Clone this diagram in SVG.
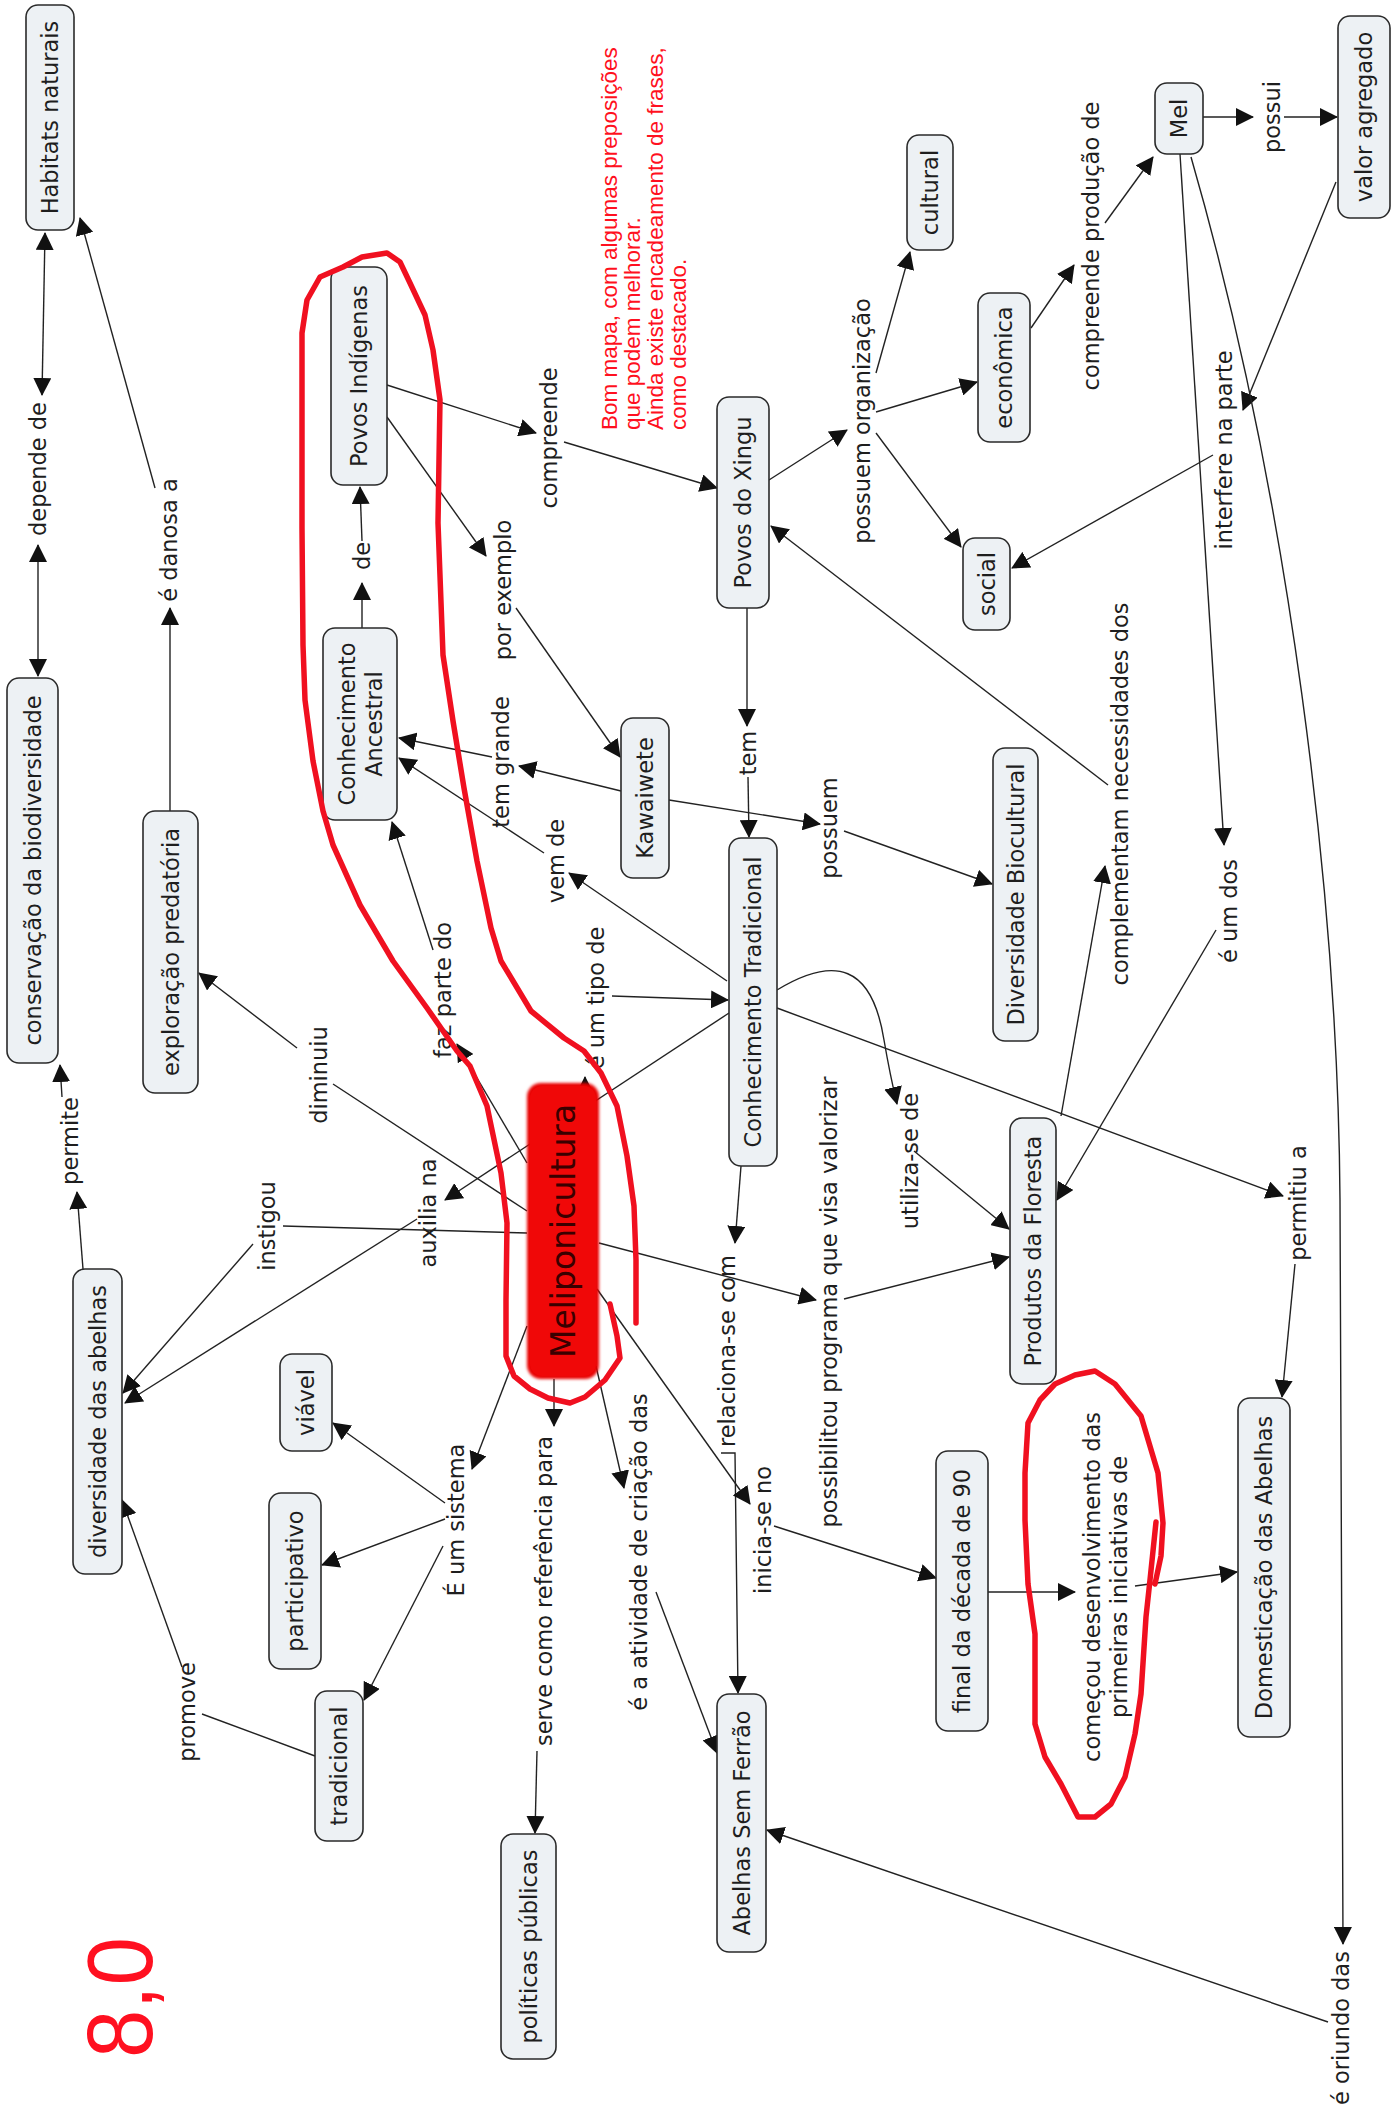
<svg xmlns="http://www.w3.org/2000/svg" width="1392" height="2112" viewBox="0 0 1392 2112">
<style>
.box{fill:#edf1f4;stroke:#2a2a2a;stroke-width:1.6}
.n,.l{font-family:"DejaVu Sans",Verdana,sans-serif;font-size:22.5px;fill:#1e1e1e;text-anchor:middle;dominant-baseline:central}
.r{font-family:"Liberation Sans",Arial,sans-serif;font-size:22.5px;fill:#ff1020}
.c{fill:none;stroke:#222;stroke-width:1.4}
.ink{fill:none;stroke:#f01020;stroke-width:5.5;stroke-linejoin:round;stroke-linecap:round}
</style>
<defs>
<marker id="a" viewBox="0 0 18 18" refX="17" refY="9" markerWidth="18" markerHeight="18" markerUnits="userSpaceOnUse" orient="auto-start-reverse"><path d="M0,0 L18,9 L0,18 z" fill="#111"/></marker>
<filter id="soft" x="-10%" y="-10%" width="120%" height="120%"><feGaussianBlur stdDeviation="1.6"/></filter>
</defs>
<rect width="1392" height="2112" fill="#fff"/>

<g id="connectors" class="c">
<path d="M38,676 L38,545" marker-start="url(#a)" marker-end="url(#a)"/>
<path d="M42,395 L45,233" marker-start="url(#a)" marker-end="url(#a)"/>
<path d="M170,811 L170,608" marker-end="url(#a)"/>
<path d="M155,488 L80,218" marker-end="url(#a)"/>
<path d="M362,628 L362,583" marker-end="url(#a)"/>
<path d="M362,541 L360,487" marker-end="url(#a)"/>
<path d="M387,385 L536,433" marker-end="url(#a)"/>
<path d="M564,442 L717,488" marker-end="url(#a)"/>
<path d="M387,417 L486,556" marker-end="url(#a)"/>
<path d="M516,608 L620,757" marker-end="url(#a)"/>
<path d="M621,791 L519,766" marker-end="url(#a)"/>
<path d="M492,757 L399,738" marker-end="url(#a)"/>
<path d="M669,800 L820,824" marker-end="url(#a)"/>
<path d="M844,831 L992,884" marker-end="url(#a)"/>
<path d="M747,608 L747,726" marker-end="url(#a)"/>
<path d="M748,777 L749,837" marker-end="url(#a)"/>
<path d="M769,480 L847,430" marker-end="url(#a)"/>
<path d="M876,373 L910,252" marker-end="url(#a)"/>
<path d="M876,412 L977,382" marker-end="url(#a)"/>
<path d="M876,433 L961,547" marker-end="url(#a)"/>
<path d="M727,981 L569,873" marker-end="url(#a)"/>
<path d="M544,853 L399,758" marker-end="url(#a)"/>
<path d="M585,1097 L585,1077" marker-end="url(#a)"/>
<path d="M612,996 L728,1000" marker-end="url(#a)"/>
<path d="M527,1163 L457,1044" marker-end="url(#a)"/>
<path d="M433,950 L392,822" marker-end="url(#a)"/>
<path d="M527,1211 L333,1084"/>
<path d="M297,1048 L199,973" marker-end="url(#a)"/>
<path d="M729,1013 L445,1200" marker-end="url(#a)"/>
<path d="M417,1219 L125,1403" marker-end="url(#a)"/>
<path d="M527,1233 L283,1226"/>
<path d="M253,1244 L123,1393" marker-end="url(#a)"/>
<path d="M83,1269 L77,1192" marker-end="url(#a)"/>
<path d="M62,1097 L60,1065" marker-end="url(#a)"/>
<path d="M527,1326 L472,1469" marker-end="url(#a)"/>
<path d="M445,1503 L333,1423" marker-end="url(#a)"/>
<path d="M445,1519 L322,1565" marker-end="url(#a)"/>
<path d="M443,1546 L364,1700" marker-end="url(#a)"/>
<path d="M315,1756 L202,1714"/>
<path d="M182,1667 L122,1500" marker-end="url(#a)"/>
<path d="M554,1379 L554,1426" marker-end="url(#a)"/>
<path d="M537,1751 L535,1833" marker-end="url(#a)"/>
<path d="M596,1366 L624,1488" marker-end="url(#a)"/>
<path d="M656,1592 L717,1753" marker-end="url(#a)"/>
<path d="M741,1166 L735,1243" marker-end="url(#a)"/>
<path d="M721,1453 L735,1453 L738,1693" marker-end="url(#a)"/>
<path d="M597,1289 L750,1504" marker-end="url(#a)"/>
<path d="M774,1526 L936,1578" marker-end="url(#a)"/>
<path d="M599,1243 L816,1300" marker-end="url(#a)"/>
<path d="M844,1299 L1009,1257" marker-end="url(#a)"/>
<path d="M777,990 C835,955 872,965 884,1040 Q890,1075 897,1104" marker-end="url(#a)"/>
<path d="M914,1151 L1009,1229" marker-end="url(#a)"/>
<path d="M777,1008 L1283,1196" marker-end="url(#a)"/>
<path d="M1295,1264 L1282,1397" marker-end="url(#a)"/>
<path d="M988,1592 L1075,1592" marker-end="url(#a)"/>
<path d="M1135,1586 L1237,1572" marker-end="url(#a)"/>
<path d="M1061,1116 L1105,866" marker-end="url(#a)"/>
<path d="M1108,785 L771,526" marker-end="url(#a)"/>
<path d="M1180,154 L1224,845" marker-end="url(#a)"/>
<path d="M1216,930 L1057,1200" marker-end="url(#a)"/>
<path d="M1031,328 L1074,265" marker-end="url(#a)"/>
<path d="M1105,223 L1153,157" marker-end="url(#a)"/>
<path d="M1203,117 L1253,117" marker-end="url(#a)"/>
<path d="M1284,117 L1337,117" marker-end="url(#a)"/>
<path d="M1336,182 L1243,410" marker-end="url(#a)"/>
<path d="M1213,455 L1012,568" marker-end="url(#a)"/>
<path d="M1191,157 C1290,500 1338,900 1340,1200 L1343,1944" marker-end="url(#a)"/>
<path d="M1328,2022 L767,1830" marker-end="url(#a)"/>
</g>

<g id="labels">
<g id="lbl-depende"><text class="l" transform="translate(38 469) rotate(-90)">depende de</text></g>
<g id="lbl-danosa"><text class="l" transform="translate(169 540) rotate(-90)">é danosa a</text></g>
<g id="lbl-de"><text class="l" transform="translate(362 556) rotate(-90)">de</text></g>
<g id="lbl-compreende"><text class="l" transform="translate(549 438) rotate(-90)">compreende</text></g>
<g id="lbl-porexemplo"><text class="l" transform="translate(503 590) rotate(-90)">por exemplo</text></g>
<g id="lbl-temgrande"><text class="l" transform="translate(501 762) rotate(-90)">tem grande</text></g>
<g id="lbl-possuem"><text class="l" transform="translate(829 828) rotate(-90)">possuem</text></g>
<g id="lbl-tem"><text class="l" transform="translate(748 753) rotate(-90)">tem</text></g>
<g id="lbl-organizacao"><text class="l" transform="translate(862 421) rotate(-90)">possuem organização</text></g>
<g id="lbl-vemde"><text class="l" transform="translate(556 861) rotate(-90)">vem de</text></g>
<g id="lbl-tipode"><text class="l" transform="translate(596 998) rotate(-90)">é um tipo de</text></g>
<g id="lbl-fazparte"><text class="l" transform="translate(443 990) rotate(-90)">faz parte do</text></g>
<g id="lbl-diminuiu"><text class="l" transform="translate(319 1075) rotate(-90)">diminuiu</text></g>
<g id="lbl-auxilia"><text class="l" transform="translate(428 1213) rotate(-90)">auxilia na</text></g>
<g id="lbl-instigou"><text class="l" transform="translate(267 1226) rotate(-90)">instigou</text></g>
<g id="lbl-permite"><text class="l" transform="translate(70 1141) rotate(-90)">permite</text></g>
<g id="lbl-sistema"><text class="l" transform="translate(456 1520) rotate(-90)">É um sistema</text></g>
<g id="lbl-promove"><text class="l" transform="translate(187 1712) rotate(-90)">promove</text></g>
<g id="lbl-serve"><text class="l" transform="translate(544 1591) rotate(-90)">serve como referência para</text></g>
<g id="lbl-atividade"><text class="l" transform="translate(639 1552) rotate(-90)">é a atividade de criação das</text></g>
<g id="lbl-relaciona"><text class="l" transform="translate(727 1351) rotate(-90)">relaciona-se com</text></g>
<g id="lbl-inicia"><text class="l" transform="translate(763 1530) rotate(-90)">inicia-se no</text></g>
<g id="lbl-possibilitou"><text class="l" transform="translate(829 1302) rotate(-90)">possibilitou programa que visa valorizar</text></g>
<g id="lbl-utiliza"><text class="l" transform="translate(910 1161) rotate(-90)">utiliza-se de</text></g>
<g id="lbl-permitiu"><text class="l" transform="translate(1298 1203) rotate(-90)">permitiu a</text></g>
<g id="lbl-comecou"><text class="l" transform="translate(1092 1587) rotate(-90)">começou desenvolvimento das</text><text class="l" transform="translate(1119 1587) rotate(-90)">primeiras iniciativas de</text></g>
<g id="lbl-complementam"><text class="l" transform="translate(1120 794) rotate(-90)">complementam necessidades dos</text></g>
<g id="lbl-umdos"><text class="l" transform="translate(1229 911) rotate(-90)">é um dos</text></g>
<g id="lbl-producao"><text class="l" transform="translate(1091 246) rotate(-90)">compreende produção de</text></g>
<g id="lbl-possui"><text class="l" transform="translate(1272 117) rotate(-90)">possui</text></g>
<g id="lbl-interfere"><text class="l" transform="translate(1224 450) rotate(-90)">interfere na parte</text></g>
<g id="lbl-oriundo"><text class="l" transform="translate(1341 2028) rotate(-90)">é oriundo das</text></g>
</g>

<g id="nodes">
<g id="n-habitats"><rect class="box" x="26" y="5" width="48" height="225" rx="12"/><text class="n" transform="translate(50 117.5) rotate(-90)">Habitats naturais</text></g>
<g id="n-povos-indigenas"><rect class="box" x="331" y="267" width="56" height="218" rx="12"/><text class="n" transform="translate(359 376) rotate(-90)">Povos Indígenas</text></g>
<g id="n-conservacao"><rect class="box" x="7" y="678" width="51" height="385" rx="12"/><text class="n" transform="translate(32.5 870.5) rotate(-90)">conservação da biodiversidade</text></g>
<g id="n-exploracao"><rect class="box" x="143" y="811" width="55" height="282" rx="12"/><text class="n" transform="translate(170.5 952) rotate(-90)">exploração predatória</text></g>
<g id="n-ancestral"><rect class="box" x="323" y="628" width="74" height="192" rx="12"/><text class="n" transform="translate(347 724) rotate(-90)">Conhecimento</text><text class="n" transform="translate(374 724) rotate(-90)">Ancestral</text></g>
<g id="n-xingu"><rect class="box" x="717" y="397" width="52" height="211" rx="12"/><text class="n" transform="translate(743 502.5) rotate(-90)">Povos do Xingu</text></g>
<g id="n-cultural"><rect class="box" x="907" y="135" width="46" height="115" rx="12"/><text class="n" transform="translate(930 192.5) rotate(-90)">cultural</text></g>
<g id="n-economica"><rect class="box" x="978" y="293" width="52" height="149" rx="12"/><text class="n" transform="translate(1004 367.5) rotate(-90)">econômica</text></g>
<g id="n-social"><rect class="box" x="963" y="538" width="47" height="92" rx="12"/><text class="n" transform="translate(986.5 584) rotate(-90)">social</text></g>
<g id="n-mel"><rect class="box" x="1155" y="83" width="48" height="71" rx="12"/><text class="n" transform="translate(1179 118.5) rotate(-90)">Mel</text></g>
<g id="n-valor"><rect class="box" x="1338" y="16" width="52" height="202" rx="12"/><text class="n" transform="translate(1364 117) rotate(-90)">valor agregado</text></g>
<g id="n-kawaiwete"><rect class="box" x="621" y="718" width="48" height="160" rx="12"/><text class="n" transform="translate(645 798) rotate(-90)">Kawaiwete</text></g>
<g id="n-tradicional-ct"><rect class="box" x="729" y="838" width="48" height="328" rx="12"/><text class="n" transform="translate(753 1002) rotate(-90)">Conhecimento Tradicional</text></g>
<g id="n-biocultural"><rect class="box" x="993" y="748" width="45" height="293" rx="12"/><text class="n" transform="translate(1015.5 894.5) rotate(-90)">Diversidade Biocultural</text></g>
<g id="n-meliponicultura"><rect x="527" y="1083" width="72" height="296" rx="14" fill="#e80000" filter="url(#soft)"/><rect x="530" y="1086" width="66" height="290" rx="12" fill="#f00808"/><text transform="translate(563 1231) rotate(-90)" style="font-family:'DejaVu Sans',Verdana,sans-serif;font-size:33px;fill:#3a0000;text-anchor:middle;dominant-baseline:central">Meliponicultura</text></g>
<g id="n-diversidade"><rect class="box" x="73" y="1269" width="49" height="305" rx="12"/><text class="n" transform="translate(97.5 1421.5) rotate(-90)">diversidade das abelhas</text></g>
<g id="n-viavel"><rect class="box" x="280" y="1354" width="52" height="97" rx="12"/><text class="n" transform="translate(306 1402.5) rotate(-90)">viável</text></g>
<g id="n-participativo"><rect class="box" x="269" y="1493" width="52" height="176" rx="12"/><text class="n" transform="translate(295 1581) rotate(-90)">participativo</text></g>
<g id="n-tradicional"><rect class="box" x="315" y="1691" width="48" height="150" rx="12"/><text class="n" transform="translate(339 1766) rotate(-90)">tradicional</text></g>
<g id="n-politicas"><rect class="box" x="501" y="1834" width="55" height="225" rx="12"/><text class="n" transform="translate(528.5 1946.5) rotate(-90)">políticas públicas</text></g>
<g id="n-abelhas"><rect class="box" x="717" y="1694" width="49" height="258" rx="12"/><text class="n" transform="translate(741.5 1823) rotate(-90)">Abelhas Sem Ferrão</text></g>
<g id="n-produtos"><rect class="box" x="1010" y="1118" width="46" height="266" rx="12"/><text class="n" transform="translate(1033 1251) rotate(-90)">Produtos da Floresta</text></g>
<g id="n-final90"><rect class="box" x="936" y="1451" width="52" height="280" rx="12"/><text class="n" transform="translate(962 1591) rotate(-90)">final da década de 90</text></g>
<g id="n-domesticacao"><rect class="box" x="1238" y="1398" width="52" height="339" rx="12"/><text class="n" transform="translate(1264 1567.5) rotate(-90)">Domesticação das Abelhas</text></g>
</g>

<g id="annotations">
<text class="r" transform="translate(617 430) rotate(-90)">Bom mapa, com algumas preposições</text>
<text class="r" transform="translate(640 430) rotate(-90)">que podem melhorar.</text>
<text class="r" transform="translate(663 430) rotate(-90)">Ainda existe encadeamento de frases,</text>
<text class="r" transform="translate(686 430) rotate(-90)">como destacado.</text>
<text transform="translate(152 2058) rotate(-90)" textLength="121" lengthAdjust="spacingAndGlyphs" style="font-family:'Liberation Sans',Arial,sans-serif;font-size:93px;fill:#ff1020">8,0</text>
<polyline class="ink" points="610,1304 617,1336 620,1358 605,1380 585,1397 570,1403 548,1398 530,1389 514,1376 506,1356 506,1300 507,1223 501,1173 487,1106 470,1066 457,1051 427,1008 393,961 360,905 333,845 323,811 313,761 305,700 303,645 302,528 302,333 307,300 320,277 343,267 362,257 387,253 400,262 410,283 425,315 433,350 440,400 439,460 438,523 443,655 453,721 464,788 477,861 491,928 501,961 531,1011 564,1038 584,1051 601,1073 617,1106 627,1156 634,1206 636,1260 636,1323"/>
<polyline class="ink" points="1156,1522 1150,1580 1146,1617 1141,1694 1135,1734 1125,1777 1111,1804 1095,1817 1078,1817 1061,1784 1045,1757 1035,1724 1035,1634 1028,1584 1025,1520 1025,1473 1028,1423 1040,1400 1055,1384 1075,1375 1095,1371 1115,1384 1141,1416 1158,1473 1163,1523 1161,1556 1155,1584"/>
</g>
</svg>
